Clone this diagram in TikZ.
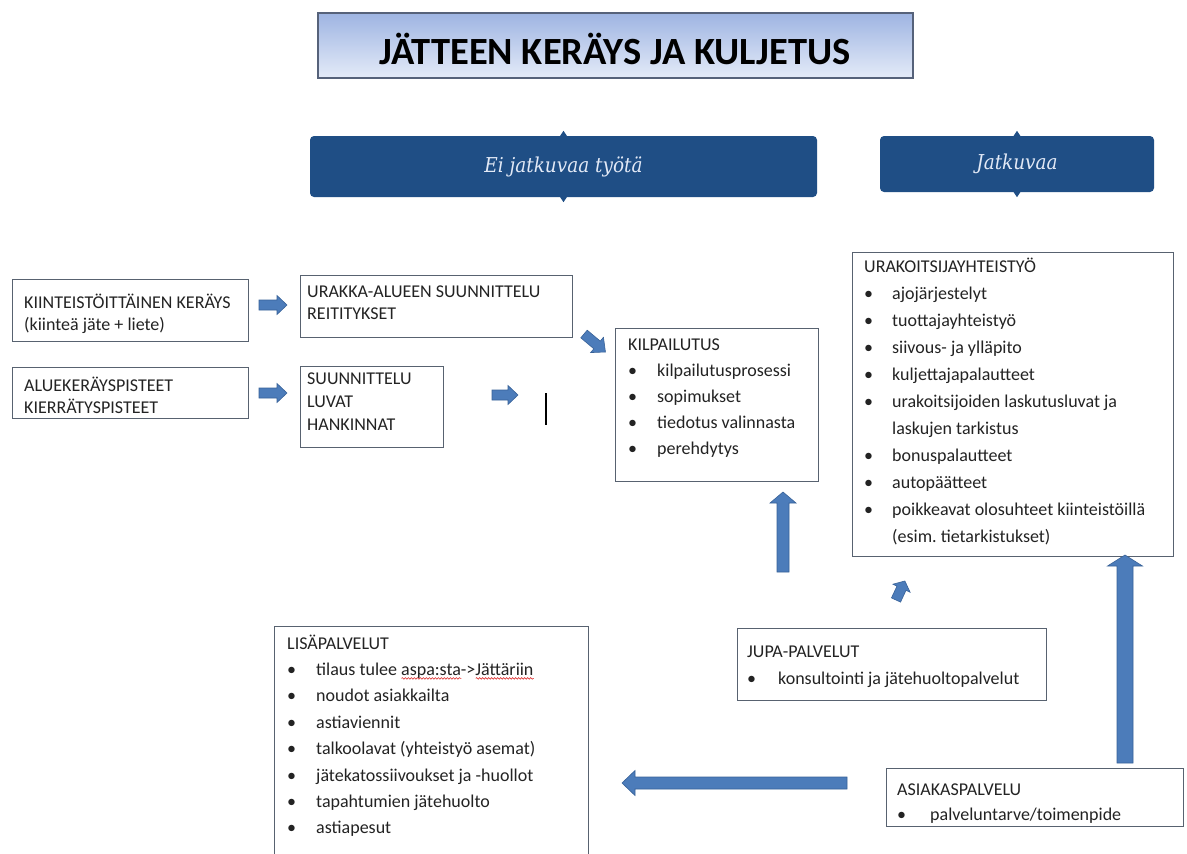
\documentclass[tikz,border=0pt]{standalone}
\usepackage{fontspec}
\setmainfont{Carlito}
\newfontfamily\bannerfont[FakeStretch=0.9]{DejaVu Serif}
\usetikzlibrary{decorations.pathmorphing,calc}
\frenchspacing

\definecolor{boxline}{RGB}{88,98,112}
\definecolor{boxtext}{RGB}{35,35,35}
\definecolor{bannerblue}{RGB}{31,78,133}
\definecolor{bannertext}{RGB}{226,233,246}
\definecolor{arrowfill}{RGB}{76,124,186}
\definecolor{arrowline}{RGB}{56,98,152}
\definecolor{titletop}{RGB}{158,180,226}
\definecolor{titlebottom}{RGB}{228,235,248}
\definecolor{spellred}{RGB}{220,40,40}

% bullet line with hanging indent
\newcommand\bul[2][29pt]{\par\hangindent=#1\hangafter=1\noindent\makebox[#1][l]{\textbullet}#2}
% block of lines with a fixed line pitch; baseline = first line
\newcommand\lines[3]{\parbox[t]{#1}{\raggedright\parindent=0pt\baselineskip=#2\lineskiplimit=-100pt\lineskip=0pt #3}}
% wavy red underline of the spell checker
\newcommand\spellmark[1]{\setbox0\hbox{#1}\leavevmode\rlap{\tikz[baseline=0pt]\draw[spellred,line width=0.6pt,decorate,decoration={snake,amplitude=0.8pt,segment length=3pt}](0pt,-3pt)--(\wd0,-3pt);}#1}
% fat block arrow: tail point, direction, length, shaft half width, head half width, head length
\newcommand\fatarrow[6]{%
  \begin{scope}[shift={#1},rotate=#2]
    \filldraw[blockarrow] (0,-#4) -- ({#3-#6},-#4) -- ({#3-#6},-#5) -- (#3,0)
      -- ({#3-#6},#5) -- ({#3-#6},#4) -- (0,#4) -- cycle;
  \end{scope}}

\tikzset{
  infobox/.style={draw=boxline,line width=1.2pt,fill=white,rectangle,inner sep=0pt,anchor=north west},
  boxcontent/.style={anchor=base west,inner sep=0pt,text=boxtext,font=\fontsize{18}{22}\selectfont},
  banner/.style={fill=bannerblue,rounded corners=4pt,rectangle,inner sep=0pt,text=bannertext,
    font=\bannerfont\itshape\fontsize{20.5}{22}\selectfont},
  notch/.style={fill=bannerblue},
  blockarrow/.style={fill=arrowfill,draw=arrowline,line width=0.6pt,line join=miter},
  titlebox/.style={draw={rgb,255:red,86;green,98;blue,122},line width=1.2pt,top color=titletop,
    bottom color=titlebottom,rectangle,inner sep=0pt},
}

\begin{document}
\begin{tikzpicture}[x=1pt,y=-1pt]
\clip (0,0) rectangle (1187,854);
\fill[white] (0,0) rectangle (1187,854);

% heading
\node[titlebox,minimum width=595pt,minimum height=65pt] (title) at (615.5,45.5) {};
\node[anchor=base,inner sep=0pt,font=\bfseries\fontsize{38.5}{40}\selectfont] (title-t) at (615,64) {JÄTTEEN KERÄYS JA KULJETUS};

% column banners
\node[banner,minimum width=507pt,minimum height=61pt] (ei) at (563.5,166.5) {Ei jatkuvaa työtä};
\node[banner,minimum width=274pt,minimum height=56pt] (jatk) at (1017,164) {Jatkuvaa};
\foreach \b in {ei,jatk}{
  \fill[notch] ($(\b.north)+(-4,1)$) -- ($(\b.north)+(0,-5)$) -- ($(\b.north)+(4,1)$) -- cycle;
  \fill[notch] ($(\b.south)+(-4,-1)$) -- ($(\b.south)+(0,5)$) -- ($(\b.south)+(4,-1)$) -- cycle;
}

% left column
\node[infobox,minimum width=236pt,minimum height=62pt] (kiint) at (12,279) {};
\node[boxcontent] (kiint-t) at (24,308) {\lines{230pt}{22pt}{KIINTEISTÖITTÄINEN KERÄYS\\(kiinteä jäte + liete)}};

\node[infobox,minimum width=236pt,minimum height=51pt] (alue) at (12,367) {};
\node[boxcontent] (alue-t) at (24,391) {\lines{230pt}{22pt}{ALUEKERÄYSPISTEET\\KIERRÄTYSPISTEET}};

\node[infobox,minimum width=272pt,minimum height=62pt] (urakka) at (300,275) {};
\node[boxcontent] (urakka-t) at (307,297) {\lines{265pt}{22pt}{URAKKA-ALUEEN SUUNNITTELU\\REITITYKSET}};

\node[infobox,minimum width=143pt,minimum height=81pt] (suunn) at (300,366) {};
\node[boxcontent] (suunn-t) at (307,384) {\lines{140pt}{23pt}{SUUNNITTELU\\LUVAT\\HANKINNAT}};

% tendering
\node[infobox,minimum width=203pt,minimum height=153pt] (kilp) at (615,328) {};
\node[boxcontent] (kilp-t) at (628,350) {\lines{200pt}{26pt}{KILPAILUTUS
  \bul{kilpailutusprosessi}
  \bul{sopimukset}
  \bul{tiedotus valinnasta}
  \bul{perehdytys}}};

% contractor co-operation
\node[infobox,minimum width=321pt,minimum height=304pt] (urak) at (852,252) {};
\node[boxcontent] (urak-t) at (864,272) {\lines{310pt}{27pt}{URAKOITSIJAYHTEISTYÖ
  \bul[28pt]{ajojärjestelyt}
  \bul[28pt]{tuottajayhteistyö}
  \bul[28pt]{siivous- ja ylläpito}
  \bul[28pt]{kuljettajapalautteet}
  \bul[28pt]{urakoitsijoiden laskutusluvat ja\newline laskujen tarkistus}
  \bul[28pt]{bonuspalautteet}
  \bul[28pt]{autopäätteet}
  \bul[28pt]{poikkeavat olosuhteet kiinteistöillä\newline (esim. tietarkistukset)}}};

% services
\node[infobox,minimum width=309pt,minimum height=72pt] (jupa) at (737,628) {};
\node[boxcontent] (jupa-t) at (747,657) {\lines{300pt}{27pt}{JUPA-PALVELUT
  \bul[31pt]{konsultointi ja jätehuoltopalvelut}}};

\node[infobox,minimum width=297pt,minimum height=58pt] (asiak) at (886,768) {};
\node[boxcontent] (asiak-t) at (897,795) {\lines{290pt}{25pt}{ASIAKASPALVELU
  \bul[33pt]{palveluntarve/toimenpide}}};

\node[infobox,minimum width=314pt,minimum height=240pt] (lisa) at (274,626) {};
\node[boxcontent] (lisa-t) at (287,649) {\lines{300pt}{26.4pt}{LISÄPALVELUT
  \bul{tilaus tulee \spellmark{aspa:sta}->\spellmark{Jättäriin}}
  \bul{noudot asiakkailta}
  \bul{astiaviennit}
  \bul{talkoolavat (yhteistyö asemat)}
  \bul{jätekatossiivoukset ja -huollot}
  \bul{tapahtumien jätehuolto}
  \bul{astiapesut}}};

% block arrows
\fatarrow{(259,305)}{0}{28}{5}{9.5}{10}
\fatarrow{(259,393)}{0}{28}{5}{9.5}{10}
\fatarrow{(492,395)}{0}{26}{5}{9.5}{10}
\fatarrow{(584,334)}{-40}{28}{5}{10}{11}
\fatarrow{(783,572)}{90}{80}{6}{13}{11}
\fatarrow{(896,600)}{65}{21}{5}{9.5}{8}
\fatarrow{(1125,763)}{90}{208}{8}{17.5}{11}
\fatarrow{(847,783)}{180}{225}{6}{12.5}{13}

% text cursor
\draw[line width=1.2pt] (546,393) -- (546,425);
\end{tikzpicture}
\end{document}
